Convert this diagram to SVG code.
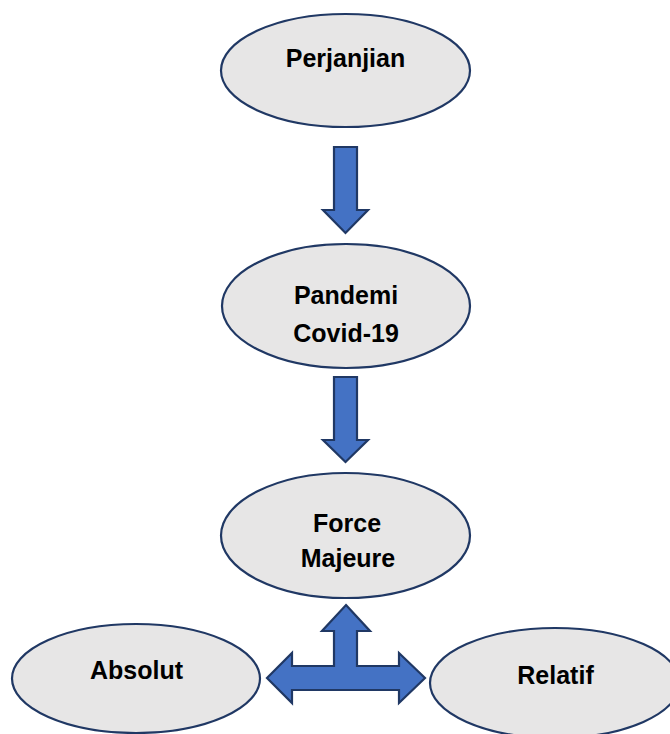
<svg xmlns="http://www.w3.org/2000/svg" width="670" height="734" viewBox="0 0 670 734">
<style>
.node ellipse{fill:#e7e6e6;stroke:#203864;stroke-width:2.2}
.node text{font-family:"Liberation Sans",Arial,sans-serif;font-weight:bold;font-size:25px;fill:#000;text-anchor:middle}
.arrow{fill:#4472c4;stroke:#203864;stroke-width:2.2;stroke-linejoin:miter}
</style>
<rect width="670" height="734" fill="#fff"/>
<g id="connectors">
<path class="arrow" d="M334,147 H357 V210 H368 L345.5,233 L323,210 H334 Z"/>
<path class="arrow" d="M334,377 H357 V440 H368 L345.5,462 L323,440 H334 Z"/>
<path class="arrow" d="M346,605 L370,631 H357 V666 H399 V653 L425,678 L399,703 V690 H292 V703 L267,678 L292,653 V666 H334 V631 H322 Z"/>
</g>
<g id="perjanjian" class="node">
<ellipse cx="345.5" cy="70.5" rx="124.5" ry="56.5"/>
<text x="345.5" y="67">Perjanjian</text>
</g>
<g id="pandemi" class="node">
<ellipse cx="346" cy="306" rx="124" ry="62"/>
<text x="346" y="304">Pandemi</text>
<text x="346" y="342">Covid-19</text>
</g>
<g id="force-majeure" class="node">
<ellipse cx="345.5" cy="535.5" rx="124.5" ry="62.5"/>
<text x="347" y="532">Force</text>
<text x="348" y="567">Majeure</text>
</g>
<g id="absolut" class="node">
<ellipse cx="136" cy="678.5" rx="124" ry="54.5"/>
<text x="136.5" y="679">Absolut</text>
</g>
<g id="relatif" class="node">
<ellipse cx="555" cy="683" rx="125" ry="55"/>
<text x="555.5" y="684">Relatif</text>
</g>
</svg>
